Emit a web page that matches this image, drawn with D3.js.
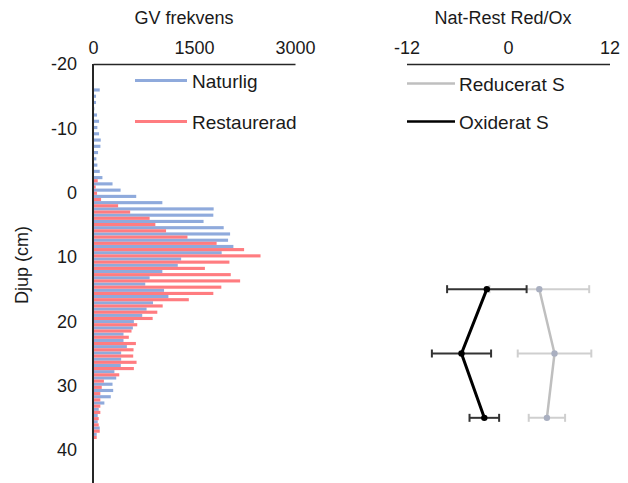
<!DOCTYPE html>
<html>
<head>
<meta charset="utf-8">
<title>GV frekvens / Red-Ox</title>
<script src="https://cdn.jsdelivr.net/npm/d3@7"></script>
<style>
  body { margin: 0; background: #fff; }
  svg { font-family: "Liberation Sans", Arial, sans-serif; }
  .axis text { fill: #1a1a1a; font-size: 18px; }
</style>
</head>
<body>
<svg id="chart" width="628" height="483"></svg>
<script>
// depth bins (cm) for the frequency bars
var depthBins = [-16,-15,-14,-13,-12,-11,-10,-9,-8,-7,-6,-5,-4,-3,-2,-1,0,1,2,3,4,5,6,7,8,9,
  10,11,12,13,14,15,16,17,18,19,20,21,22,23,24,25,26,27,28,29,30,31,32,33,34,35,36,37,38,39];
var naturlig = [100,45,45,20,60,90,65,90,115,110,75,50,65,100,140,290,410,
  642,1030,1792,1787,1642,1941,2036,2006,2085,
  1911,1309,1259,1030,841,776,1055,1120,891,796,
  731,607,592,453,453,503,418,418,413,
  318,345,290,300,264,169,85,70,70,100,55];
var restaurerad = [0,0,0,0,0,0,0,0,0,0,0,0,15,0,70,40,60,
  120,373,552,841,926,1085,1403,1836,2244,
  2488,2026,1662,2046,2185,1906,1787,1423,1035,955,
  886,657,572,532,637,602,597,647,607,
  390,162,130,109,109,109,109,85,85,100,55];

// right panel: Nat-Rest difference with error bars
var sDepths = [15, 25, 35];
var reducerat = [3.7, 5.5, 4.6];
var reduceratErr = [5.9, 4.35, 2.15];
var oxiderat = [-2.5, -5.5, -2.8];
var oxideratErr = [4.7, 3.5, 1.75];

var depthTicks = [-20, -10, 0, 10, 20, 30, 40];
var freqTicks = [0, 1500, 3000];
var diffTicks = [-12, 0, 12];

var blue = '#8faadc', red = '#ff7c80';
var fmt = function(d){ return String(d); }; // plain hyphen minus like Excel

var svg = d3.select('#chart');

// scales
var yDepth = d3.scaleLinear().domain([-20, 40]).range([64, 450]);
var yBin = d3.scaleBand().domain(depthBins).range([88.4, 439]).padding(0);
var ySub = d3.scaleBand().domain(['naturlig', 'restaurerad']).range([0, yBin.bandwidth()]);
var xFreq = d3.scaleLinear().domain([0, 3000]).range([93, 295]);
var xDiff = d3.scaleLinear().domain([-12, 12]).range([406.5, 609.5]);

// bars
var rows = depthBins.map(function(d, i){
  return {depth: d, naturlig: naturlig[i], restaurerad: restaurerad[i]};
});
var barG = svg.append('g');
[['naturlig', blue], ['restaurerad', red]].forEach(function(s){
  barG.selectAll('rect.' + s[0]).data(rows).enter().append('rect')
    .attr('class', s[0])
    .attr('x', xFreq(0))
    .attr('y', function(d){ return yBin(d.depth) + ySub(s[0]); })
    .attr('width', function(d){ return xFreq(d[s[0]]) - xFreq(0); })
    .attr('height', ySub.bandwidth())
    .attr('fill', s[1]);
});

// left axes
var topAxis = svg.append('g').attr('class', 'axis')
  .attr('transform', 'translate(0,' + yDepth(-20) + ')')
  .call(d3.axisTop(xFreq).tickValues(freqTicks).tickSize(0).tickPadding(10).tickFormat(fmt));
topAxis.select('.domain').attr('stroke', '#262626').attr('stroke-width', 1.5);

var leftAxis = svg.append('g').attr('class', 'axis')
  .attr('transform', 'translate(' + xFreq(0) + ',0)')
  .call(d3.axisLeft(yDepth).tickValues(depthTicks).tickSize(0).tickPadding(16).tickFormat(fmt));
leftAxis.select('.domain').attr('d', 'M0,' + yDepth(-20) + 'V483')
  .attr('stroke', '#262626').attr('stroke-width', 2);

svg.append('text').attr('x', 184).attr('y', 24).attr('text-anchor', 'middle')
  .attr('font-size', 18).attr('fill', '#1a1a1a').text('GV frekvens');
svg.append('text').attr('transform', 'translate(28,265) rotate(-90)')
  .attr('text-anchor', 'middle').attr('font-size', 18).attr('fill', '#1a1a1a').text('Djup (cm)');

// left legend
var legL = [['Naturlig', blue, 80.5], ['Restaurerad', red, 121.5]];
legL.forEach(function(l){
  svg.append('line').attr('x1', 135).attr('x2', 187).attr('y1', l[2]).attr('y2', l[2])
    .attr('stroke', l[1]).attr('stroke-width', 3);
  svg.append('text').attr('x', 192).attr('y', l[2] + 7).attr('font-size', 19)
    .attr('fill', '#1a1a1a').text(l[0]);
});

// right axis
var rAxis = svg.append('g').attr('class', 'axis')
  .attr('transform', 'translate(0,' + yDepth(-20) + ')')
  .call(d3.axisTop(xDiff).tickValues(diffTicks).tickSize(0).tickPadding(10).tickFormat(fmt));
rAxis.select('.domain').attr('stroke', '#262626').attr('stroke-width', 1.5);
svg.append('text').attr('x', 503).attr('y', 24).attr('text-anchor', 'middle')
  .attr('font-size', 18).attr('fill', '#1a1a1a').text('Nat-Rest Red/Ox');

// right legend
var legR = [['Reducerat S', '#bfbfbf', 83.5], ['Oxiderat S', '#000', 121.5]];
legR.forEach(function(l){
  svg.append('line').attr('x1', 407).attr('x2', 455).attr('y1', l[2]).attr('y2', l[2])
    .attr('stroke', l[1]).attr('stroke-width', 2.5);
  svg.append('text').attr('x', 459).attr('y', l[2] + 7).attr('font-size', 19)
    .attr('fill', '#1a1a1a').text(l[0]);
});

// series with error bars
function drawSeries(vals, errs, lineCol, errCol, dotCol, lw){
  var pts = sDepths.map(function(d, i){ return {depth: d, v: vals[i], e: errs[i]}; });
  var g = svg.append('g');
  pts.forEach(function(p){
    var y = yDepth(p.depth);
    g.append('line').attr('x1', xDiff(p.v - p.e)).attr('x2', xDiff(p.v + p.e))
      .attr('y1', y).attr('y2', y).attr('stroke', errCol).attr('stroke-width', 2);
    [p.v - p.e, p.v + p.e].forEach(function(e){
      g.append('line').attr('x1', xDiff(e)).attr('x2', xDiff(e))
        .attr('y1', y - 4).attr('y2', y + 4).attr('stroke', errCol).attr('stroke-width', 2);
    });
  });
  g.append('path').datum(pts)
    .attr('d', d3.line().x(function(d){ return xDiff(d.v); }).y(function(d){ return yDepth(d.depth); }))
    .attr('fill', 'none').attr('stroke', lineCol).attr('stroke-width', lw);
  g.selectAll('circle').data(pts).enter().append('circle')
    .attr('cx', function(d){ return xDiff(d.v); })
    .attr('cy', function(d){ return yDepth(d.depth); })
    .attr('r', 3.2).attr('fill', dotCol);
}
drawSeries(reducerat, reduceratErr, '#bfbfbf', '#cfcfcf', '#a9afc0', 2.5);
drawSeries(oxiderat, oxideratErr, '#000', '#333', '#000', 3);
</script>
</body>
</html>
